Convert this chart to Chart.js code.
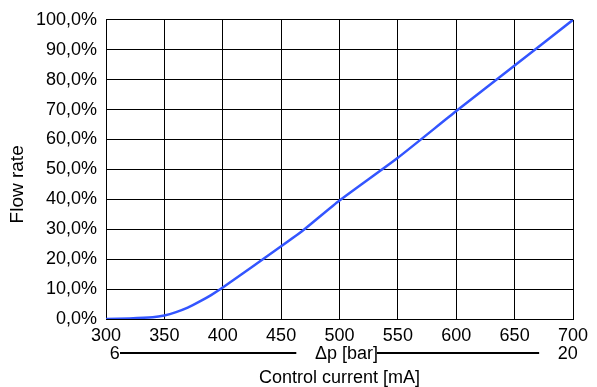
<!DOCTYPE html>
<html>
<head>
<meta charset="utf-8">
<script src="https://cdn.jsdelivr.net/npm/chart.js@4/dist/chart.umd.min.js"></script>
<style>
  html, body { margin: 0; padding: 0; background: #fff; }
  #wrap { width: 597px; height: 387px; }
</style>
</head>
<body>
<div id="wrap"><canvas id="flowChart"></canvas></div>
<script>
// Kennlinie: Steuerstrom [mA] -> Durchfluss [%]
const currentMA = [300, 320, 340, 350, 360, 370, 380, 390, 400, 450, 470, 500, 550, 600, 650, 700];
const flowPct   = [0, 0.2, 0.6, 1.2, 2.3, 3.8, 5.8, 8.0, 10.5, 24.3, 30.0, 39.6, 53.9, 69.5, 84.7, 100];

const xTicks = { min: 300, max: 700, step: 50 };
const yTicks = { min: 0, max: 100, step: 10 };

// zweite Achse (Δp) unter der x-Achse
const dpLabels = { start: '6', title: 'Δp [bar]', end: '20' };
const yTitle = 'Flow rate';

const FONT = "'Liberation Sans', Arial, sans-serif";

const extraTextPlugin = {
    id: 'extraText',
    afterDraw(chart) {
        const ctx = chart.ctx;
        const x = chart.scales.x;
        const area = chart.chartArea;
        const yText = area.bottom + 35;
        const yLine = area.bottom + 34;
        ctx.save();
        ctx.fillStyle = '#000';
        ctx.strokeStyle = '#000';
        ctx.lineWidth = 2;
        ctx.font = '18px ' + FONT;
        ctx.textAlign = 'center';
        ctx.textBaseline = 'middle';
        ctx.fillText(dpLabels.start, x.getPixelForValue(307.5), yText);
        ctx.fillText(dpLabels.title, x.getPixelForValue(506), yText);
        ctx.fillText(dpLabels.end, x.getPixelForValue(695.5), yText);
        ctx.beginPath();
        ctx.moveTo(x.getPixelForValue(312), yLine);
        ctx.lineTo(x.getPixelForValue(463), yLine);
        ctx.moveTo(x.getPixelForValue(532), yLine);
        ctx.lineTo(x.getPixelForValue(671), yLine);
        ctx.stroke();

        // y-Achsentitel (etwas unter der Mitte, wie im Original)
        ctx.translate(18, area.top + (area.bottom - area.top) * 0.55);
        ctx.rotate(-Math.PI / 2);
        ctx.font = '19px ' + FONT;
        ctx.fillText(yTitle, 0, 0);
        ctx.restore();
    }
};

document.addEventListener('DOMContentLoaded', () => {
    const ctx = document.getElementById('flowChart').getContext('2d');
    new Chart(ctx, {
        type: 'line',
        data: {
            datasets: [{
                data: currentMA.map((c, i) => ({ x: c, y: flowPct[i] })),
                borderColor: '#3355ff',
                borderWidth: 2.5,
                pointRadius: 0,
                tension: 0.2,
                fill: false
            }]
        },
        options: {
            responsive: true,
            maintainAspectRatio: false,
            animation: false,
            layout: { padding: { top: 15, right: 24, left: 0, bottom: 0 } },
            plugins: {
                legend: { display: false },
                tooltip: { enabled: false }
            },
            scales: {
                x: {
                    type: 'linear',
                    min: xTicks.min,
                    max: xTicks.max,
                    afterFit: (scale) => { scale.height = 68; },
                    grid: { color: '#000', lineWidth: 1, drawTicks: false },
                    border: { color: '#000', width: 1 },
                    ticks: {
                        stepSize: xTicks.step,
                        color: '#000',
                        padding: 6,
                        maxRotation: 0,
                        font: { family: FONT, size: 18 }
                    },
                    title: {
                        display: true,
                        text: 'Control current [mA]',
                        color: '#000',
                        padding: { top: 0, bottom: 0 },
                        font: { family: FONT, size: 18, lineHeight: 1.0 }
                    }
                },
                y: {
                    min: yTicks.min,
                    max: yTicks.max,
                    afterFit: (scale) => { scale.width = 106; },
                    grid: { color: '#000', lineWidth: 1, drawTicks: false },
                    border: { color: '#000', width: 1 },
                    ticks: {
                        stepSize: yTicks.step,
                        color: '#000',
                        padding: 9,
                        font: { family: FONT, size: 18 },
                        callback: (v) => v.toFixed(1).replace('.', ',') + '%'
                    }
                }
            }
        },
        plugins: [extraTextPlugin]
    });
});
</script>
</body>
</html>
